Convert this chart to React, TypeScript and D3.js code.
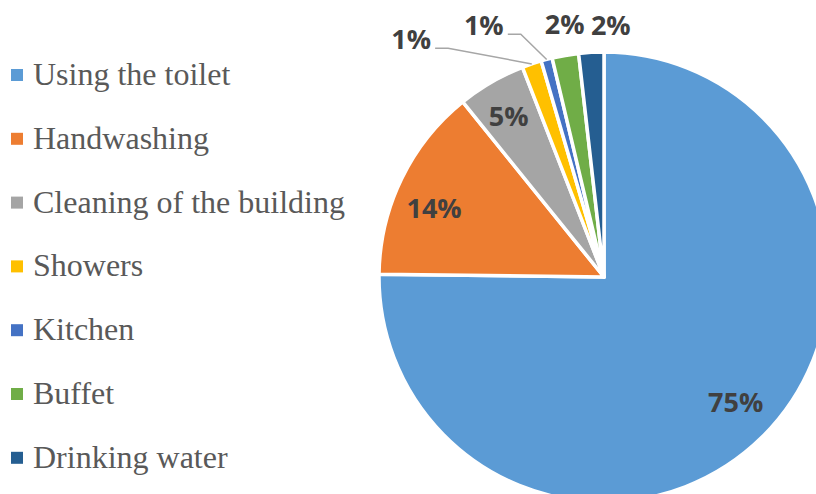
import React from "react";
import * as d3 from "d3";

const categories = [
  "Using the toilet",
  "Handwashing",
  "Cleaning of the building",
  "Showers",
  "Kitchen",
  "Buffet",
  "Drinking water",
];
const values = [75.2, 14.0, 4.9, 1.4, 0.8, 1.9, 1.8];
const colors = ["#5B9BD5", "#ED7D31", "#A5A5A5", "#FFC000", "#4472C4", "#70AD47", "#255E91"];

// label layout: inside labels for big slices, outside (with nudges) for small ones
const outside = [false, false, false, true, true, true, true];
const nudge: [number, number][] = [
  [2, -6],
  [-4, 12],
  [-3, -1],
  [-112, 1],
  [-56, -8],
  [4, -4],
  [21, 0],
];
const leader = [false, false, false, true, true, false, false];

const W = 816;
const H = 494;
const cx = 604;
const cy = 277;
const R = 225;

export default function App() {
  const total = d3.sum(values);
  const pie = d3
    .pie<number>()
    .sort(null)
    .startAngle(0)
    .endAngle(2 * Math.PI)
    .value((d) => d);
  const arcs = pie(values);
  const arc = d3.arc<d3.PieArcDatum<number>>().innerRadius(0).outerRadius(R);
  const pt = (a: number, r: number): [number, number] => [Math.sin(a) * r, -Math.cos(a) * r];

  return (
    <svg
      width={W}
      height={H}
      style={{ position: "absolute", left: 0, top: 0, background: "#fff" }}
      fontFamily="'Open Sans', sans-serif"
    >
      {/* legend */}
      <g>
        {categories.map((c, i) => {
          const base = 85 + i * 63.8;
          return (
            <g key={c}>
              <rect x={11} y={base - 16} width={12} height={12} fill={colors[i]} />
              <text
                x={33}
                y={base}
                fontFamily="'Liberation Serif', 'Times New Roman', serif"
                fontSize={32}
                fill="#595959"
              >
                {c}
              </text>
            </g>
          );
        })}
      </g>
      {/* pie */}
      <g transform={`translate(${cx},${cy})`}>
        {arcs.map((a, i) => (
          <path key={i} d={arc(a) || ""} fill={colors[i]} stroke="#fff" strokeWidth={3.5} strokeLinejoin="round" />
        ))}
        {arcs.map((a, i) => {
          const mid = (a.startAngle + a.endAngle) / 2;
          const label = `${Math.round((a.value / total) * 100)}%`;
          if (!outside[i]) {
            const [x, y] = pt(mid, R * 0.82);
            return (
              <text
                key={i}
                x={x + nudge[i][0]}
                y={y + nudge[i][1]}
                dy="0.36em"
                textAnchor="middle"
                fontSize={27}
                fontWeight={700}
                fill="#404040"
              >
                {label}
              </text>
            );
          }
          const [ax, ay] = pt(mid, R * 1.12);
          const lx = ax + nudge[i][0];
          const ly = ay + nudge[i][1];
          const [ex, ey] = pt(mid, R);
          const sx = lx + 24;
          const sy = ly + 9;
          return (
            <g key={i}>
              {leader[i] && (
                <polyline
                  points={`${sx},${sy} ${sx + 13},${sy} ${ex},${ey}`}
                  fill="none"
                  stroke="#A6A6A6"
                  strokeWidth={1.5}
                />
              )}
              <text x={lx} y={ly} dy="0.36em" textAnchor="middle" fontSize={27} fontWeight={700} fill="#404040">
                {label}
              </text>
            </g>
          );
        })}
      </g>
    </svg>
  );
}
